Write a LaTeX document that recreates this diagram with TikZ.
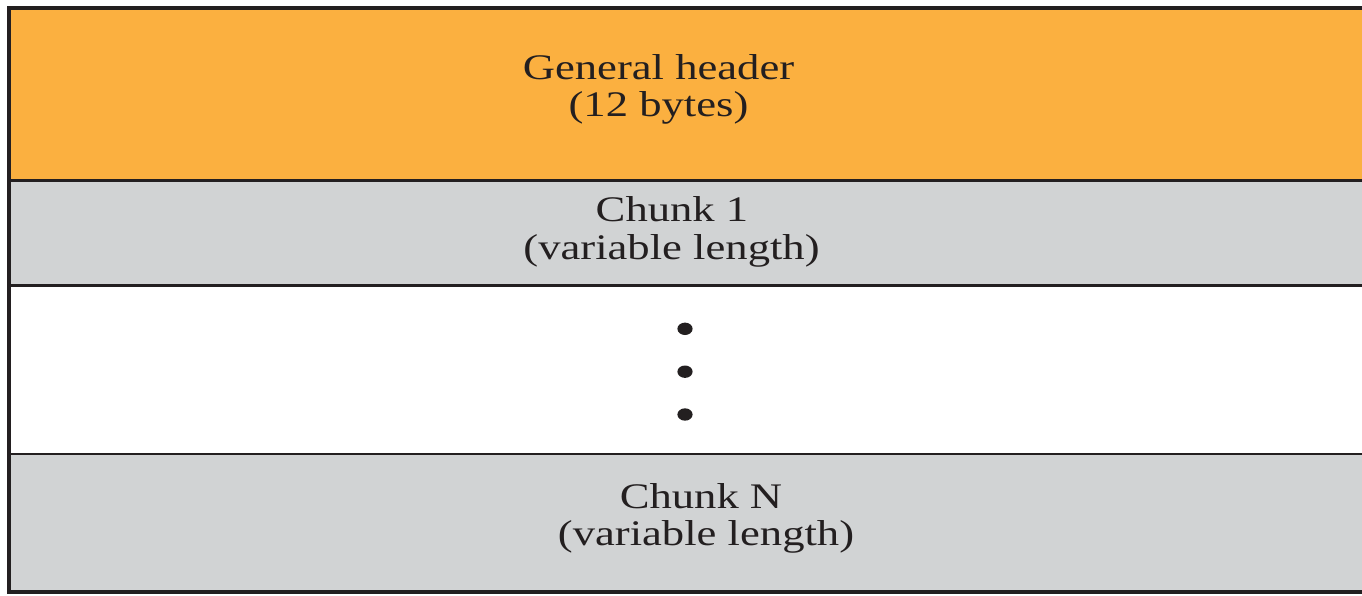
\documentclass[tikz,border=0pt]{standalone}
\usepackage{fontspec}
\setmainfont{Liberation Serif}
\usetikzlibrary{positioning}
\definecolor{hdrorange}{HTML}{FBB040}
\definecolor{chunkgray}{HTML}{D1D3D4}
\definecolor{inkdark}{HTML}{231F20}
% wide setting of the serif labels
\newcommand{\widetext}[1]{\scalebox{1.24}[1]{#1}}
\tikzset{
  band/.style={draw=none},
  rule/.style={draw=inkdark, line width=2.6pt},
  frame/.style={draw=inkdark, line width=3.6pt},
  lbl/.style={anchor=base, inner sep=0pt, text=inkdark,
              font=\fontsize{36}{37.5}\selectfont},
  dot/.style={fill=inkdark, draw=none}
}
\begin{document}
\begin{tikzpicture}[x=1pt, y=-1pt]
  \useasboundingbox (0,0) rectangle (1362,596);
  % coloured bands of the packet layout
  \fill[hdrorange] (9,8) rectangle (1370,180.7);
  \fill[chunkgray] (9,180.7) rectangle (1370,285.5);
  \fill[white] (9,285.5) rectangle (1370,454);
  \fill[chunkgray] (9,454) rectangle (1370,592);
  % separators between the fields
  \draw[rule] (9,180.7) -- (1370,180.7);
  \draw[rule] (9,285.5) -- (1370,285.5);
  \draw[rule] (9,454) -- (1370,454);
  % outer frame (open past the right edge)
  \draw[frame] (1370,8) -- (9,8) -- (9,592) -- (1370,592);
  % field labels
  \node[lbl] (hdrA) at (658.5,79.3) {\widetext{General header}};
  \node[lbl] (hdrB) at (658.5,116.8) {\widetext{(12 bytes)}};
  \node[lbl] (cOneA) at (672,221.7) {\widetext{Chunk 1}};
  \node[lbl] (cOneB) at (671.5,259.2) {\widetext{(variable length)}};
  \node[lbl] (cNA) at (701,508.3) {\widetext{Chunk N}};
  \node[lbl] (cNB) at (706,545.8) {\widetext{(variable length)}};
  % vertical ellipsis between the chunks
  \fill[dot] (685,328.8) ellipse [x radius=7.6, y radius=6.2];
  \fill[dot] (685,371.7) ellipse [x radius=7.6, y radius=6.2];
  \fill[dot] (685,414.5) ellipse [x radius=7.6, y radius=6.2];
\end{tikzpicture}
\end{document}
